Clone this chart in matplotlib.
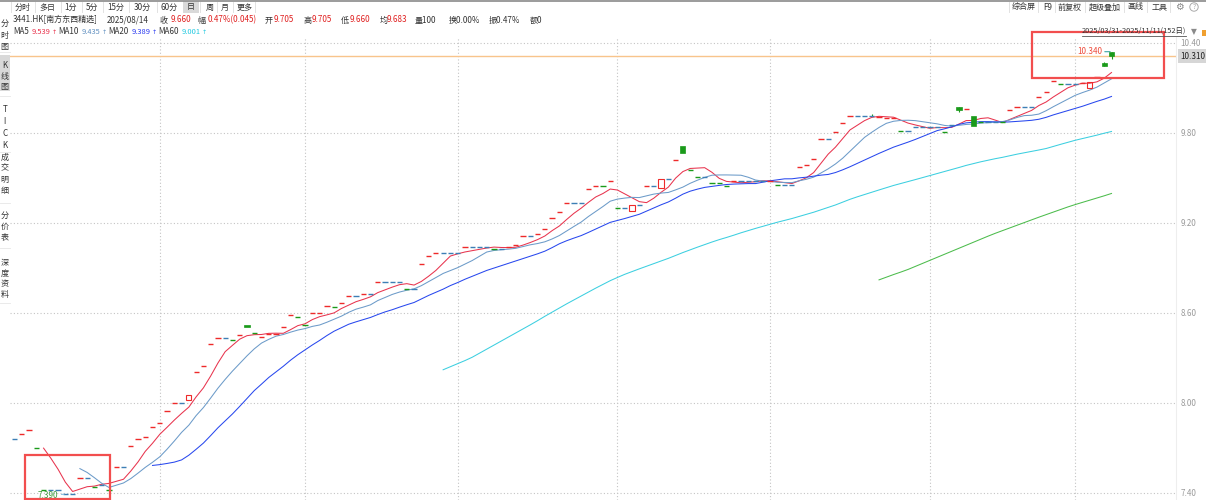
import numpy as np
import pandas as pd
import matplotlib
matplotlib.use("Agg")
import matplotlib.pyplot as plt
from matplotlib.patches import Rectangle, Ellipse
from matplotlib.lines import Line2D

plt.rcParams["font.family"] = ["Noto Sans CJK SC", "DejaVu Sans"]

W, H, DPI = 1206, 500, 100

# ---- daily closes, 3441.HK 2025/03/31 - 2025/11/11 (152 days) ----
CLOSE = [
    7.756, 7.79, 7.82, 7.70, 7.42, 7.42, 7.42, 7.39, 7.39, 7.50,
    7.50, 7.44, 7.45, 7.42, 7.569, 7.569, 7.711, 7.756, 7.773, 7.84,
    7.867, 7.945, 7.996, 7.996, 8.05, 8.207, 8.245, 8.391, 8.429, 8.429,
    8.418, 8.451, 8.507, 8.462, 8.436, 8.456, 8.456, 8.503, 8.585, 8.569,
    8.518, 8.596, 8.60, 8.645, 8.636, 8.663, 8.711, 8.711, 8.722, 8.722,
    8.803, 8.803, 8.803, 8.803, 8.756, 8.756, 8.923, 8.978, 8.996, 8.996,
    8.996, 8.996, 9.04, 9.04, 9.04, 9.04, 9.027, 9.027, 9.036, 9.051,
    9.113, 9.113, 9.124, 9.156, 9.229, 9.269, 9.329, 9.329, 9.329, 9.423,
    9.447, 9.445, 9.478, 9.296, 9.296, 9.316, 9.316, 9.445, 9.445, 9.491,
    9.489, 9.616, 9.663, 9.549, 9.503, 9.503, 9.462, 9.462, 9.447, 9.48,
    9.48, 9.48, 9.478, 9.478, 9.48, 9.449, 9.449, 9.449, 9.569, 9.582,
    9.622, 9.756, 9.756, 9.802, 9.867, 9.911, 9.911, 9.911, 9.911, 9.902,
    9.896, 9.896, 9.813, 9.813, 9.84, 9.84, 9.84, 9.84, 9.807, 9.85,
    9.951, 9.956, 9.844, 9.873, 9.873, 9.873, 9.873, 9.951, 9.973, 9.973,
    9.973, 10.036, 10.069, 10.142, 10.125, 10.125, 10.125, 10.133, 10.14, 10.173,
    10.247, 10.313,
]
# u = up (red), d = down (green), f = unchanged (blue)
KIND = ("fuuddffffu" "fdfdufuuuu" "uuufuuuuuf" "dudduuuuud" "duuuduufuf"
        "ufffdfuuuf" "ffufffdfuu" "ufuuuuuffu" "ududfufufu" "fudddfdddu"
        "ffffudffuu" "uufuuufffu" "uudfffffdf" "duddffduuf" "fuuudffuuu" "dd")
# candles with a real body: index -> open
BODY_OPEN = {24: 8.02, 32: 8.52, 85: 9.276, 89: 9.43, 92: 9.711,
             130: 9.973, 132: 9.911, 148: 10.096, 150: 10.263, 151: 10.34}
# visible wicks: index -> (high, low)
WICKS = {118: (9.925, 9.911), 130: (9.973, 9.94),
         150: (10.273, 10.247), 151: (10.34, 10.29)}
MONTH_START = [20, 40, 61, 83, 104, 126, 146]
MA_WINDOWS = [5, 10, 20, 60, 120]
MA_COLORS = ["#e8344e", "#6c9bc9", "#2848ee", "#3ccfe0", "#4cbc4c"]
PRICE_TICKS = [7.40, 8.00, 8.60, 9.20, 9.80, 10.40]
LAST_PRICE = 10.310
HIGH_IDX, HIGH_VAL = 151, 10.340
LOW_IDX, LOW_VAL = 7, 7.390

C_UP, C_DN, C_FLAT = "#ee2a2a", "#1a9a1a", "#3d7fb5"
C_TXT, C_RED = "#333333", "#e02020"
FS = 5.8

assert len(CLOSE) == len(KIND) == 152

# pixel helpers (layout only)
X0, DX = 14.5, 7.265
Y_REF, PPU = 492.7, 150.0
def fx(px): return px / W
def fy(py): return 1 - py / H

fig = plt.figure(figsize=(W / DPI, H / DPI), dpi=DPI, facecolor="white")

# ── chart axes ────────────────────────────────────────────────────────────────
ax = fig.add_axes([fx(10), 0, (1176 - 10) / W, (500 - 37) / H])
ax.set_facecolor("white")
ax.set_xlim((10 - X0) / DX, (1176 - X0) / DX)
ax.set_ylim(7.40 - (500 - Y_REF) / PPU, 7.40 + (Y_REF - 37) / PPU)
for s in ("left", "top", "bottom"):
    ax.spines[s].set_visible(False)
ax.spines["right"].set_color("#eeeeee")
ax.yaxis.tick_right()
ax.set_yticks(PRICE_TICKS)
ax.set_yticklabels([f"{v:.2f}" for v in PRICE_TICKS])
ax.tick_params(axis="y", length=0, pad=3, labelsize=FS, labelcolor="#9a9a9a")
ax.set_xticks(MONTH_START)
ax.tick_params(axis="x", length=0, labelbottom=False)
ax.grid(True, linestyle=(0, (1, 2)), color="#c4c4c4", linewidth=0.8, zorder=0)

close = np.array(CLOSE)
opens = close.copy()
for k, v in BODY_OPEN.items():
    opens[k] = v
xs = np.arange(len(close))

# moving averages
s = pd.Series(close)
for w, col in zip(MA_WINDOWS, MA_COLORS):
    ax.plot(xs, s.rolling(w).mean(), color=col, lw=0.75, zorder=3)

# wicks
for k, (hi, lo) in WICKS.items():
    col = C_UP if close[k] > opens[k] else C_DN
    ax.vlines(k, lo, hi, color=col, lw=0.8, zorder=4)

# candles
half = 0.36
kc = {"u": C_UP, "d": C_DN, "f": C_FLAT}
for i in xs:
    o, c = opens[i], close[i]
    if abs(o - c) < 1e-9:
        ax.hlines(c, i - half, i + half, color=kc[KIND[i]], lw=1.0, zorder=5)
    elif c > o:
        ax.add_patch(Rectangle((i - half, o), 2 * half, c - o, fill=False,
                               edgecolor=C_UP, lw=0.8, zorder=5))
    else:
        ax.add_patch(Rectangle((i - half, c), 2 * half, o - c,
                               facecolor=C_DN, edgecolor=C_DN, lw=0.5, zorder=5))

# last price line + label
ax.axhline(LAST_PRICE, color="#f8c48c", lw=1.0, zorder=2)
ax.annotate(f"{LAST_PRICE:.3f}", xy=(1, LAST_PRICE),
            xycoords=("axes fraction", "data"), xytext=(4, 0),
            textcoords="offset pixels", ha="left", va="center",
            fontsize=FS, color="#222222", annotation_clip=False,
            bbox=dict(boxstyle="square,pad=0.28", fc="#d6d6d6", ec="none"))

# high / low markers
ax.annotate(f"{HIGH_VAL:.3f}", xy=(HIGH_IDX, HIGH_VAL), xytext=(-22, 0),
            textcoords="offset pixels", ha="center", va="center",
            fontsize=FS, color="#ee4a3a", zorder=6,
            arrowprops=dict(arrowstyle="-", color="#3aa3a3", lw=0.8,
                            shrinkA=0, shrinkB=1))
ax.annotate(f"{LOW_VAL:.3f}", xy=(LOW_IDX, LOW_VAL), xytext=(-17, -1),
            textcoords="offset pixels", ha="center", va="center",
            fontsize=FS, color="#3c9c3c", zorder=6,
            arrowprops=dict(arrowstyle="-", color="#8cc0e0", lw=0.8,
                            shrinkA=0, shrinkB=1))

# ── top toolbar ───────────────────────────────────────────────────────────────
fig.add_artist(Line2D([0, 1], [fy(0.5), fy(0.5)], color="#8a8a8a", lw=1.2))
fig.add_artist(Rectangle((fx(183), fy(13)), fx(16), 12 / H,
                         fc="#d9d9d9", ec="none"))
tool_left = [("分时", 22.5), ("多日", 47.5), ("1分", 71), ("5分", 92),
             ("15分", 116), ("30分", 142), ("60分", 169), ("日", 191),
             ("周", 209.5), ("月", 225), ("更多", 244.5)]
tool_right = [("综合屏", 1023.5), ("F9", 1048), ("前复权", 1070),
              ("超级叠加", 1105), ("画线", 1135.5), ("工具", 1159.5)]
for t, x in tool_left + tool_right:
    fig.text(fx(x), fy(7), t, ha="center", va="center", fontsize=FS, color=C_TXT)
for x in (11, 35, 61, 82, 103, 129, 157, 200, 217, 233, 255,
          1009, 1038, 1055, 1085, 1124, 1147, 1170):
    fig.add_artist(Line2D([fx(x), fx(x)], [fy(2), fy(12)], color="#e2e2e2", lw=0.7))
fig.text(fx(1179), fy(7), "⚙", ha="center", va="center", fontsize=7,
         color="#888888", family="DejaVu Sans")
fig.add_artist(Ellipse((fx(1194), fy(7)), 8.4 / W, 8.4 / H,
                       transform=fig.transFigure, fill=False,
                       ec="#aaaaaa", lw=0.7))
fig.text(fx(1194), fy(7), "?", ha="center", va="center", fontsize=5,
         color="#aaaaaa")

# ── quote line ────────────────────────────────────────────────────────────────
quote = [("3441.HK[南方东西精选]", 13, C_TXT), ("2025/08/14", 107, C_TXT),
         ("收", 160, C_TXT), ("9.660", 171, C_RED),
         ("幅", 197, C_TXT), ("0.47%(0.045)", 208, C_RED),
         ("开", 265, C_TXT), ("9.705", 274, C_RED),
         ("高", 303, C_TXT), ("9.705", 312, C_RED),
         ("低", 341, C_TXT), ("9.660", 350, C_RED),
         ("均", 380, C_TXT), ("9.683", 387, C_RED),
         ("量100", 415, C_TXT), ("换0.00%", 449, C_TXT),
         ("振0.47%", 489, C_TXT), ("额0", 530, C_TXT)]
for t, x, c in quote:
    fig.text(fx(x), fy(20), t, ha="left", va="center", fontsize=FS, color=c)

ma_line = [("MA5", 13, C_TXT), ("9.539", 32, "#e8304a"),
           ("MA10", 58, C_TXT), ("9.435", 82, "#5f8fc0"),
           ("MA20", 108, C_TXT), ("9.389", 132, "#2838f0"),
           ("MA60", 158, C_TXT), ("9.001", 182, "#20c8e0")]
for t, x, c in ma_line:
    fs = 5.4 if t[0].isdigit() else FS
    fig.text(fx(x), fy(32), t, ha="left", va="center", fontsize=fs, color=c)
for x, c in [(54, "#e8304a"), (104, "#5f8fc0"), (154, "#2838f0"), (204, "#20c8e0")]:
    fig.text(fx(x), fy(32), "↑", ha="center", va="center", fontsize=4.5,
             color=c, family="DejaVu Sans")

fig.text(fx(1082), fy(31), "2025/03/31-2025/11/11(152日)", ha="left",
         va="center", fontsize=5.3, color=C_TXT)
fig.add_artist(Line2D([fx(1082), fx(1186)], [fy(35.5), fy(35.5)],
                      color="#555555", lw=0.6))
fig.text(fx(1194), fy(32), "▼", ha="center", va="center", fontsize=5.5,
         color="#8a8a8a", family="DejaVu Sans")
fig.add_artist(Rectangle((fx(1202), fy(36)), fx(4), 6 / H,
                         fc="#f0a030", ec="none"))

# ── left tab bar ──────────────────────────────────────────────────────────────
fig.add_artist(Rectangle((0, fy(91)), fx(10), 36 / H, fc="#d9d9d9", ec="none"))
side = [("分", 23), ("时", 35), ("图", 46),
        ("K", 66), ("线", 77), ("图", 87),
        ("T", 110), ("I", 122), ("C", 133), ("K", 146),
        ("成", 157), ("交", 168), ("明", 179), ("细", 190),
        ("分", 215), ("价", 226), ("表", 237),
        ("深", 262), ("度", 273), ("资", 284), ("料", 295)]
for t, y in side:
    fig.text(fx(4.8), fy(y), t, ha="center", va="center", fontsize=FS, color=C_TXT)
for y in (52, 96, 152, 203, 248, 303):
    fig.add_artist(Line2D([0, fx(10)], [fy(y), fy(y)], color="#e6e6e6", lw=0.6))

# ── red markup boxes ──────────────────────────────────────────────────────────
for (x0, y0, x1, y1) in [(1032, 32, 1164, 78), (25, 455, 110, 499)]:
    fig.add_artist(Rectangle((fx(x0), fy(y1)), fx(x1 - x0), (y1 - y0) / H,
                             fill=False, ec="#f24e4e", lw=1.6))

fig.savefig("out.png", dpi=DPI, facecolor="white")
